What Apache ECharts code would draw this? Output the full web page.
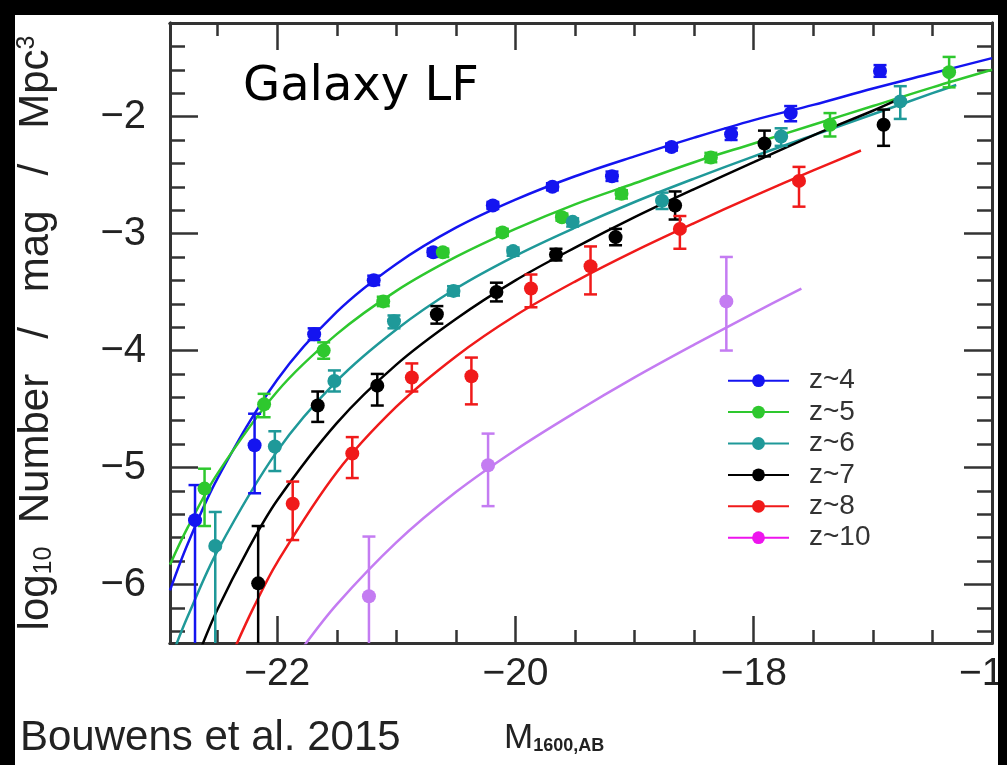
<!DOCTYPE html>
<html><head><meta charset="utf-8">
<script src="https://cdn.jsdelivr.net/npm/echarts@6/dist/echarts.min.js"></script>
<style>html,body{margin:0;padding:0;background:#fff}#c{width:1007px;height:765px}</style>
</head><body><div id="c"></div>
<script>
// ---- tick values ----
const xMajor = [-22, -20, -18, -16];
const xMinor = [-22.5, -21.5, -21, -20.5, -19.5, -19, -18.5, -17.5, -17, -16.5];
const yMajor = [-6, -5, -4, -3, -2];
const yMinor = [-6.4, -6.2, -5.8, -5.6, -5.4, -5.2, -4.8, -4.6, -4.4, -4.2, -3.8, -3.6, -3.4, -3.2, -2.8, -2.6, -2.4, -2.2, -1.8, -1.6, -1.4];

// ---- data points (x, y, upper, lower) ----
const z4_x  = [-22.69, -22.19, -21.69, -21.19, -20.69, -20.19, -19.69, -19.19, -18.69, -18.19, -17.69, -16.94];
const z4_y  = [-5.45, -4.81, -3.86, -3.40, -3.16, -2.76, -2.60, -2.51, -2.26, -2.15, -1.97, -1.61];
const z4_hi = [-5.15, -4.54, -3.81, -3.36, -3.13, -2.73, -2.57, -2.47, -2.23, -2.10, -1.91, -1.56];
const z4_lo = [-6.7, -5.22, -3.91, -3.44, -3.19, -2.79, -2.63, -2.55, -2.29, -2.20, -2.04, -1.66];

const z5_x  = [-22.61, -22.11, -21.61, -21.11, -20.61, -20.11, -19.61, -19.11, -18.36, -17.36, -16.36];
const z5_y  = [-5.18, -4.46, -4.00, -3.58, -3.16, -2.99, -2.86, -2.66, -2.35, -2.07, -1.62];
const z5_hi = [-5.01, -4.37, -3.93, -3.54, -3.13, -2.96, -2.83, -2.63, -2.31, -1.97, -1.49];
const z5_lo = [-5.50, -4.57, -4.07, -3.62, -3.20, -3.02, -2.89, -2.70, -2.39, -2.17, -1.75];

const z6_x  = [-22.52, -22.02, -21.52, -21.02, -20.52, -20.02, -19.52, -18.77, -17.77, -16.77];
const z6_y  = [-5.67, -4.82, -4.26, -3.75, -3.49, -3.15, -2.90, -2.72, -2.17, -1.87];
const z6_hi = [-5.38, -4.69, -4.17, -3.70, -3.45, -3.12, -2.87, -2.65, -2.10, -1.74];
const z6_lo = [-6.7, -5.03, -4.35, -3.81, -3.53, -3.19, -2.94, -2.79, -2.25, -2.02];

const z7_x  = [-22.16, -21.66, -21.16, -20.66, -20.16, -19.66, -19.16, -18.66, -17.91, -16.91];
const z7_y  = [-5.99, -4.47, -4.30, -3.69, -3.50, -3.18, -3.03, -2.76, -2.23, -2.07];
const z7_hi = [-5.50, -4.35, -4.20, -3.62, -3.42, -3.13, -2.96, -2.64, -2.12, -1.94];
const z7_lo = [-6.7, -4.61, -4.47, -3.77, -3.58, -3.23, -3.10, -2.88, -2.34, -2.25];

const z8_x  = [-21.87, -21.37, -20.87, -20.37, -19.87, -19.37, -18.62, -17.62];
const z8_y  = [-5.31, -4.88, -4.23, -4.22, -3.47, -3.28, -2.96, -2.55];
const z8_hi = [-5.12, -4.74, -4.11, -4.06, -3.35, -3.11, -2.85, -2.43];
const z8_lo = [-5.62, -5.09, -4.35, -4.46, -3.63, -3.52, -3.13, -2.77];

const z10_x  = [-21.23, -20.23, -18.23];
const z10_y  = [-6.10, -4.98, -3.58];
const z10_hi = [-5.59, -4.71, -3.20];
const z10_lo = [-6.7, -5.33, -4.00];

// ---- fitted curves ----
const fit4_x = [-22.9, -22.75, -22.5, -22, -21.5, -21, -20.5, -20, -19.5, -19, -18.5, -18, -17.5, -17, -16.5, -16];
const fit4_y = [-6.05, -5.65, -5.09, -4.25, -3.67, -3.26, -2.95, -2.71, -2.51, -2.34, -2.18, -2.03, -1.90, -1.76, -1.63, -1.50];
const fit5_x = [-22.9, -22.75, -22.5, -22, -21.5, -21, -20.5, -20, -19.5, -19, -18.5, -18, -17.5, -17, -16.5, -16];
const fit5_y = [-5.83, -5.51, -5.05, -4.35, -3.86, -3.49, -3.20, -2.96, -2.75, -2.57, -2.39, -2.23, -2.07, -1.91, -1.75, -1.60];
const fit6_x = [-22.85, -22.75, -22.5, -22, -21.5, -21, -20.5, -20, -19.5, -19, -18.5, -18, -17.5, -17, -16.5, -16.3];
const fit6_y = [-6.52, -6.27, -5.71, -4.86, -4.26, -3.82, -3.47, -3.19, -2.95, -2.73, -2.53, -2.34, -2.16, -1.98, -1.80, -1.73];
const fit7_x = [-22.65, -22.5, -22.25, -22, -21.5, -21, -20.5, -20, -19.5, -19, -18.5, -18, -17.5, -17, -16.8];
const fit7_y = [-6.57, -6.21, -5.71, -5.28, -4.62, -4.12, -3.73, -3.40, -3.12, -2.86, -2.62, -2.39, -2.16, -1.95, -1.86];
const fit8_x = [-22.35, -22.2, -22, -21.5, -21, -20.5, -20, -19.5, -19, -18.5, -18, -17.5, -17.1];
const fit8_y = [-6.53, -6.20, -5.81, -5.04, -4.48, -4.05, -3.70, -3.41, -3.15, -2.91, -2.68, -2.46, -2.29];
const fit10_x = [-21.8, -21.5, -21, -20.5, -20, -19.5, -19, -18.5, -18, -17.6];
const fit10_y = [-6.56, -6.17, -5.64, -5.21, -4.85, -4.53, -4.23, -3.95, -3.68, -3.47];

const groups = [
  {name: 'z~4',  color: '#1414f0', px: z4_x,  py: z4_y,  hi: z4_hi,  lo: z4_lo,  fx: fit4_x,  fy: fit4_y},
  {name: 'z~5',  color: '#2ec82e', px: z5_x,  py: z5_y,  hi: z5_hi,  lo: z5_lo,  fx: fit5_x,  fy: fit5_y},
  {name: 'z~6',  color: '#1f9999', px: z6_x,  py: z6_y,  hi: z6_hi,  lo: z6_lo,  fx: fit6_x,  fy: fit6_y},
  {name: 'z~7',  color: '#000000', px: z7_x,  py: z7_y,  hi: z7_hi,  lo: z7_lo,  fx: fit7_x,  fy: fit7_y},
  {name: 'z~8',  color: '#f01a1a', px: z8_x,  py: z8_y,  hi: z8_hi,  lo: z8_lo,  fx: fit8_x,  fy: fit8_y},
  {name: 'z~10', color: '#c47cf2', px: z10_x, py: z10_y, hi: z10_hi, lo: z10_lo, fx: fit10_x, fy: fit10_y}
];
const legendColorZ10 = '#ee14ee';

const X_MIN = -22.9, X_MAX = -16, Y_MIN = -6.5, Y_MAX = -1.2;
const AX = '#333';
const fmt = v => (v < 0 ? '\u2212' : '') + Math.abs(v);

function xAx(pos, ticks, len, withLabels) {
  return {
    type: 'value', position: pos, min: X_MIN, max: X_MAX,
    axisLine: {show: true, onZero: false, lineStyle: {color: AX, width: 3}},
    axisTick: {show: true, inside: true, length: len, customValues: ticks, lineStyle: {color: AX, width: 2.5}},
    axisLabel: withLabels ? {show: true, customValues: xMajor, formatter: fmt, fontSize: 39,
      fontFamily: '"Liberation Sans", Arial, sans-serif', color: '#222', margin: 12} : {show: false},
    splitLine: {show: false}
  };
}
function yAx(pos, ticks, len, withLabels) {
  return {
    type: 'value', position: pos, min: Y_MIN, max: Y_MAX,
    axisLine: {show: true, onZero: false, lineStyle: {color: AX, width: 3}},
    axisTick: {show: true, inside: true, length: len, customValues: ticks, lineStyle: {color: AX, width: 2.5}},
    axisLabel: withLabels ? {show: true, customValues: yMajor, formatter: fmt, fontSize: 40,
      fontFamily: '"Liberation Sans", Arial, sans-serif', color: '#222', margin: 24} : {show: false},
    splitLine: {show: false}
  };
}

function errSeries(g) {
  return {
    type: 'custom', name: g.name + ' err', clip: true, silent: true, z: 3,
    data: g.px.map((x, i) => [x, g.lo[i], g.hi[i]]),
    encode: {x: 0, y: [1, 2]},
    renderItem: function (params, api) {
      const x = api.value(0);
      const a = api.coord([x, api.value(1)]);
      const b = api.coord([x, api.value(2)]);
      const hw = 6.5;
      const st = {stroke: g.color, lineWidth: 2.5};
      return {type: 'group', children: [
        {type: 'line', shape: {x1: a[0], y1: a[1], x2: b[0], y2: b[1]}, style: st},
        {type: 'line', shape: {x1: a[0] - hw, y1: a[1], x2: a[0] + hw, y2: a[1]}, style: st},
        {type: 'line', shape: {x1: b[0] - hw, y1: b[1], x2: b[0] + hw, y2: b[1]}, style: st}
      ]};
    }
  };
}

const series = [];
groups.forEach(g => {
  series.push({
    type: 'line', name: g.name, data: g.fx.map((x, i) => [x, g.fy[i]]),
    smooth: 0.35, symbol: 'circle', showSymbol: false, clip: true,
    lineStyle: {color: g.color, width: 2.5}, itemStyle: {color: g.color}, z: 2, silent: true
  });
});
groups.forEach(g => series.push(errSeries(g)));
groups.forEach(g => {
  series.push({
    type: 'scatter', name: g.name + ' pts', data: g.px.map((x, i) => [x, g.py[i]]),
    symbol: 'circle', symbolSize: 14, itemStyle: {color: g.color, opacity: 1}, z: 4, silent: true, clip: true
  });
});

const chart = echarts.init(document.getElementById('c'), null, {renderer: 'canvas'});
chart.setOption({
  backgroundColor: '#ffffff',
  animation: false,
  grid: {left: 170, right: 15, top: 23, bottom: 122, containLabel: false, outerBoundsMode: 'none'},
  xAxis: [xAx('bottom', xMajor, 27, true), xAx('bottom', xMinor, 13, false),
          xAx('top', xMajor, 27, false), xAx('top', xMinor, 13, false)],
  yAxis: [yAx('left', yMajor, 28, true), yAx('left', yMinor, 15, false),
          yAx('right', yMajor, 28, false), yAx('right', yMinor, 15, false)],
  legend: {
    orient: 'vertical', left: 727, top: 365, padding: 0, itemGap: 0,
    itemWidth: 61, itemHeight: 16,
    data: groups.map(g => g.name === 'z~10'
      ? {name: g.name, itemStyle: {color: legendColorZ10}, lineStyle: {color: legendColorZ10}}
      : {name: g.name}),
    textStyle: {fontSize: 28, lineHeight: 31.4, color: '#333', padding: [0, 0, 0, 15],
      fontFamily: '"Liberation Sans", Arial, sans-serif'},
    selectedMode: false
  },
  graphic: [
    {type: 'text', x: 243, y: 88, z: 50, style: {text: 'Galaxy LF', font: '48px "DejaVu Sans"', fill: '#000',
      textAlign: 'left', textVerticalAlign: 'middle', align: 'left', verticalAlign: 'middle'}},
    {type: 'text', x: 20, y: 738, z: 50, style: {text: 'Bouwens et al. 2015', font: '42px "Liberation Sans"', fill: '#222',
      textAlign: 'left', textVerticalAlign: 'middle', align: 'left', verticalAlign: 'middle'}},
    {type: 'text', x: 504, y: 738, z: 50, style: {
      text: '{m|M}{s|1600,AB}',
      rich: {m: {fontSize: 35, fontFamily: '"Liberation Sans Narrow", "Liberation Sans"', fill: '#222', color: '#222'},
             s: {fontSize: 18, fontWeight: 'bold', fontFamily: '"Liberation Sans Narrow", "Liberation Sans"', fill: '#222', color: '#222', verticalAlign: 'bottom', padding: [16, 0, 0, 0]}},
      textAlign: 'left', textVerticalAlign: 'middle', align: 'left', verticalAlign: 'middle'}},
    {type: 'text', x: 36, y: 333, rotation: Math.PI / 2, z: 50, style: {
      text: '{a|log}{s|10}{a|  Number   /   mag   /   Mpc}{p|3}',
      rich: {a: {fontSize: 42, fontFamily: '"Liberation Sans"', fill: '#222', color: '#222'},
             s: {fontSize: 25, fontFamily: '"Liberation Sans"', fill: '#222', color: '#222', verticalAlign: 'bottom', padding: [14, 0, 0, 0]},
             p: {fontSize: 25, fontFamily: '"Liberation Sans"', fill: '#222', color: '#222', verticalAlign: 'top', padding: [0, 0, 14, 0]}},
      textAlign: 'center', textVerticalAlign: 'middle', align: 'center', verticalAlign: 'middle'}},
    {type: 'rect', z: 100, shape: {x: 0, y: 0, width: 1007, height: 15}, style: {fill: '#000'}},
    {type: 'rect', z: 100, shape: {x: 0, y: 0, width: 15, height: 765}, style: {fill: '#000'}},
    {type: 'rect', z: 100, shape: {x: 998, y: 0, width: 9, height: 765}, style: {fill: '#000'}}
  ],
  series: series
});
</script>
</body></html>
